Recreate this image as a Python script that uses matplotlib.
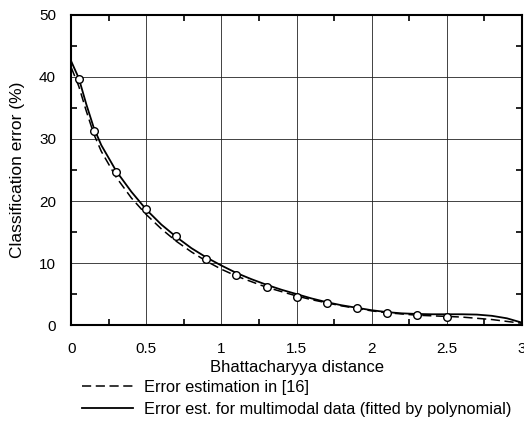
import matplotlib
matplotlib.use("Agg")
import matplotlib.pyplot as plt
from matplotlib.ticker import MultipleLocator

plt.rcParams['font.family'] = ['Liberation Sans', 'DejaVu Sans']
plt.rcParams['font.size'] = 11

# measured points (circles)
meas_x = [0.05, 0.15, 0.3, 0.5, 0.7, 0.9, 1.1, 1.3, 1.5, 1.7, 1.9, 2.1, 2.3, 2.5]
meas_y = [39.7, 31.3, 24.6, 18.7, 14.4, 10.6, 8.1, 6.2, 4.6, 3.5, 2.7, 1.9, 1.7, 1.3]

# polynomial fit curve (solid)
fit_x = [0, 0.05, 0.1, 0.15, 0.2, 0.3, 0.4, 0.5, 0.6, 0.7, 0.8, 0.9, 1.0, 1.1,
         1.2, 1.3, 1.4, 1.5, 1.6, 1.7, 1.8, 1.9, 2.0, 2.1, 2.2, 2.3, 2.4, 2.5,
         2.6, 2.7, 2.8, 2.9, 3.0]
fit_y = [42.5, 39.8, 35.6, 31.8, 29.0, 24.8, 21.5, 18.6, 16.2, 14.2, 12.4, 10.9,
         9.6, 8.4, 7.4, 6.5, 5.7, 5.0, 4.3, 3.7, 3.2, 2.8, 2.4, 2.1, 1.9, 1.8,
         1.75, 1.75, 1.75, 1.7, 1.5, 1.1, 0.4]

# error estimation in [16] (dashed)
ref_x = fit_x
ref_y = [41.5, 38.5, 34.5, 30.8, 28.0, 23.8, 20.5, 17.8, 15.5, 13.5, 11.8, 10.3,
         9.0, 7.9, 7.0, 6.1, 5.4, 4.7, 4.1, 3.6, 3.1, 2.7, 2.3, 2.0, 1.8, 1.6,
         1.5, 1.4, 1.3, 1.1, 0.9, 0.6, 0.3]

labels = ['Error estimation in [16]',
          'Error est. for multimodal data (fitted by polynomial)']

fig = plt.figure(figsize=(5.24, 4.25), dpi=100)
ax = fig.add_axes([0.136, 0.235, 0.860, 0.730])

l1, = ax.plot(ref_x, ref_y, color='black', lw=1.1, dashes=(6, 3))
l2, = ax.plot(fit_x, fit_y, color='black', lw=1.3)
ax.plot(meas_x, meas_y, 'o', ms=5.5, mfc='white', mec='black', mew=1.0)

ax.set_xlim(0, 3)
ax.set_ylim(0, 50)
ax.xaxis.set_major_locator(MultipleLocator(0.5))
ax.xaxis.set_minor_locator(MultipleLocator(0.25))
ax.yaxis.set_major_locator(MultipleLocator(10))
ax.yaxis.set_minor_locator(MultipleLocator(5))
ax.xaxis.set_major_formatter(plt.FuncFormatter(lambda v, p: f"{v:g}"))
ax.tick_params(which='both', direction='in', top=True, right=True, width=1.2)
ax.tick_params(which='major', length=0)
ax.tick_params(axis='x', which='major', pad=12)
ax.tick_params(axis='y', which='major', pad=11)
ax.tick_params(which='minor', length=4)
ax.grid(True, which='major', color='#222222', lw=0.6)
for s in ax.spines.values():
    s.set_linewidth(1.5)

ax.set_xlabel('Bhattacharyya distance', fontsize=12, labelpad=3)
ax.set_ylabel('Classification error (%)', fontsize=12.5, labelpad=10)

ax.legend([l1, l2], labels,
          loc='upper left', bbox_to_anchor=(0.156, 0.106), bbox_transform=fig.transFigure,
          frameon=False, fontsize=11.8, handlelength=3.1, handletextpad=0.7,
          labelspacing=0.4, borderpad=0, borderaxespad=0)

fig.savefig('out.png', dpi=100)
